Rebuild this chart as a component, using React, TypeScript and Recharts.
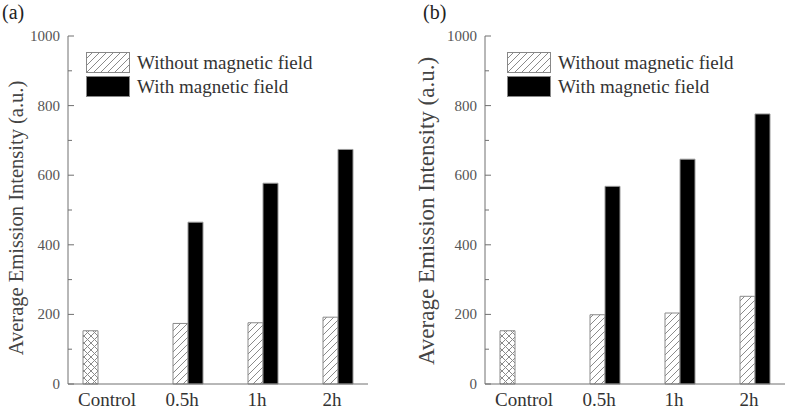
import { BarChart, Bar, XAxis, YAxis, Legend } from 'recharts';

const categories = ['Control', '0.5h', '1h', '2h'];

// panel (a)
const controlA = [153, null, null, null];
const withoutA = [null, 174, 176, 192];
const withA = [null, 465, 577, 674];

// panel (b)
const controlB = [153, null, null, null];
const withoutB = [null, 199, 204, 252];
const withB = [null, 568, 646, 776];

const yTicks = [0, 100, 200, 300, 400, 500, 600, 700, 800, 900, 1000];
const seriesNames = ['Without magnetic field', 'With magnetic field'];
const yTitle = 'Average Emission Intensity (a.u.)';

const FONT = '"Liberation Serif", "Times New Roman", serif';
const AXIS = '#707070';

const YTick = (props: any) => {
  const { x, y, payload } = props;
  const major = payload.value % 200 === 0;
  const ax = x + 8;
  return (
    <g>
      <line x1={ax} x2={ax + (major ? 6 : 4)} y1={y} y2={y} stroke={AXIS} strokeWidth={1} />
      {major && (
        <text x={x} y={y} dy={5} textAnchor="end" fontFamily={FONT} fontSize={15} fill="#555">
          {payload.value}
        </text>
      )}
    </g>
  );
};

const XTick = (props: any) => {
  const { x, y, payload } = props;
  return (
    <text x={x + 1.5} y={y} dy={13.5} textAnchor="middle" fontFamily={FONT} fontSize={19} fill="#333">
      {payload.value}
    </text>
  );
};

function LegendBox({ id }: { id: string }) {
  return (
    <div style={{ fontFamily: FONT, fontSize: 19, color: '#333' }}>
      {seriesNames.map((name, i) => (
        <div key={name} style={{ display: 'flex', alignItems: 'center', height: 21, marginBottom: 3 }}>
          <svg width={45} height={22} style={{ marginRight: 6 }}>
            <rect
              x={0.5}
              y={0.5}
              width={43}
              height={20}
              fill={i === 0 ? `url(#${id}-hatch)` : '#000'}
              stroke="#888"
            />
          </svg>
          <span style={{ lineHeight: '21px', whiteSpace: 'nowrap' }}>{name}</span>
        </div>
      ))}
    </div>
  );
}

type PanelProps = {
  id: string;
  control: (number | null)[];
  without: (number | null)[];
  withField: (number | null)[];
  width: number;
  yAxisWidth: number;
  right: number;
  titleDx: number;
  titleDy: number;
  titleSize: number;
  legendLeft: number;
};

function Panel({ id, control, without, withField, width, yAxisWidth, right, titleDx, titleDy, titleSize, legendLeft }: PanelProps) {
  const data = categories.map((c, i) => ({
    name: c,
    control: control[i],
    without: without[i],
    with: withField[i],
  }));
  return (
    <BarChart
      width={width}
      height={410}
      data={data}
      margin={{ top: 36, right, bottom: 0, left: 0 }}
      barSize={15}
      barGap={0}
    >
      <defs>
        <pattern id={`${id}-hatch`} patternUnits="userSpaceOnUse" width={7} height={7}>
          <path d="M0,7 L7,0 M-1,1 L1,-1 M6,8 L8,6" stroke="#8a8a8a" strokeWidth={1} />
        </pattern>
        <pattern id={`${id}-cross`} patternUnits="userSpaceOnUse" width={7} height={7}>
          <path
            d="M0,7 L7,0 M-1,1 L1,-1 M6,8 L8,6 M0,0 L7,7 M-1,6 L1,8 M6,-1 L8,1"
            stroke="#8a8a8a"
            strokeWidth={1}
          />
        </pattern>
      </defs>
      <XAxis
        dataKey="name"
        height={26}
        tickLine={false}
        tickSize={0}
        tickMargin={8}
        axisLine={{ stroke: AXIS }}
        tick={<XTick />}
        interval={0}
      />
      <XAxis xAxisId="top" orientation="top" dataKey="name" height={0} tick={false} tickLine={false} axisLine={{ stroke: AXIS }} />
      <YAxis
        width={yAxisWidth}
        domain={[0, 1000]}
        ticks={yTicks}
        interval={0}
        tickLine={false}
        tickSize={0}
        tickMargin={8}
        axisLine={{ stroke: AXIS }}
        tick={<YTick />}
        label={{
          value: yTitle,
          angle: -90,
          position: 'center',
          dx: titleDx,
          dy: titleDy,
          style: { fontFamily: FONT, fontSize: titleSize, fill: '#444' },
        }}
      />
      <YAxis yAxisId="r" orientation="right" width={0} domain={[0, 1000]} tick={false} tickLine={false} axisLine={{ stroke: AXIS }} />
      <Legend
        layout="vertical"
        align="center"
        verticalAlign="middle"
        wrapperStyle={{ left: legendLeft, top: 52, width: 260 }}
        content={() => <LegendBox id={id} />}
      />
      <Bar dataKey="control" fill={`url(#${id}-cross)`} stroke="#8a8a8a" legendType="none" isAnimationActive={false} />
      <Bar dataKey="without" name={seriesNames[0]} fill={`url(#${id}-hatch)`} stroke="#8a8a8a" isAnimationActive={false} />
      <Bar dataKey="with" name={seriesNames[1]} fill="#000" stroke="#999" isAnimationActive={false} />
    </BarChart>
  );
}

export default function App() {
  return (
    <div style={{ position: 'absolute', left: 0, top: 0, width: 787, height: 410, background: '#fff' }}>
      <div style={{ position: 'absolute', left: 0, top: 0 }}>
        <Panel id="a" control={controlA} without={withoutA} withField={withA} width={390} yAxisWidth={68} right={22} titleDx={-18} titleDy={8} titleSize={20.5} legendLeft={86} />
      </div>
      <div style={{ position: 'absolute', left: 390, top: 0 }}>
        <Panel id="b" control={controlB} without={withoutB} withField={withB} width={397} yAxisWidth={95} right={2} titleDx={-12} titleDy={1} titleSize={23} legendLeft={117} />
      </div>
      <div style={{ position: 'absolute', left: 2, top: 0, fontFamily: FONT, fontSize: 20, lineHeight: '24px', color: '#222' }}>(a)</div>
      <div style={{ position: 'absolute', left: 423, top: 0, fontFamily: FONT, fontSize: 20, lineHeight: '24px', color: '#222' }}>(b)</div>
    </div>
  );
}
